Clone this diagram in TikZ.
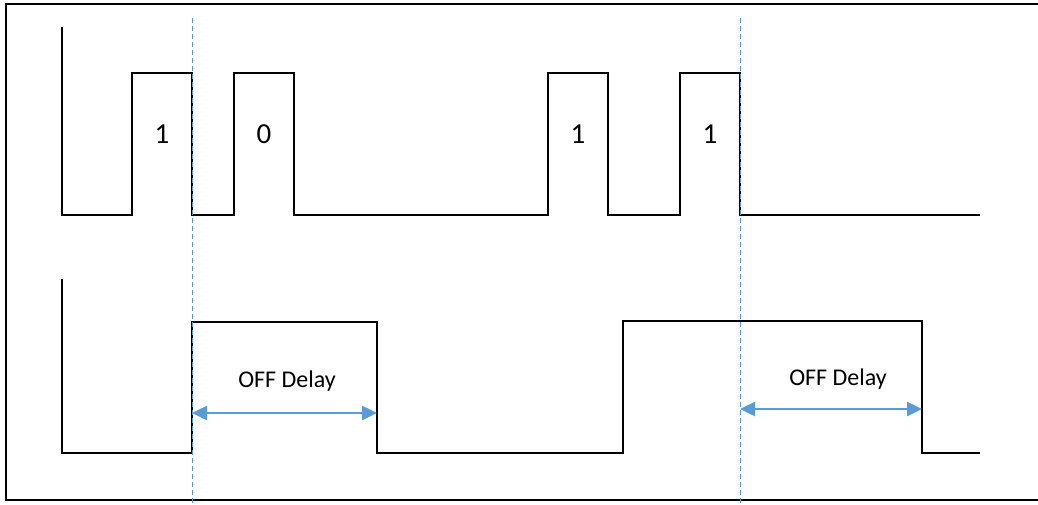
\documentclass[tikz,border=0pt]{standalone}
\usepackage{fontspec}
\setmainfont{Carlito}
\usetikzlibrary{arrows.meta,positioning}
\definecolor{delayblue}{RGB}{91,155,213}
\tikzset{
  wave/.style={line width=2.5pt, line join=miter},
  marker/.style={delayblue, line width=1pt, dash pattern=on 5pt off 3pt},
  delayarrow/.style={delayblue, line width=2.5pt,
    {Triangle[length=15pt,width=14pt]}-{Triangle[length=15pt,width=14pt]}},
  bit/.style={font=\fontsize{29}{34}\selectfont},
  delaylabel/.style={font=\fontsize{24}{28}\selectfont, anchor=base}
}

\begin{document}
\begin{tikzpicture}[x=1pt,y=-1pt]
\useasboundingbox (0,0) rectangle (1038,504);
\draw[line width=2.5pt] (6,4) rectangle (1050,500);

% input pulses
\draw[wave] (62,27) -- (62,215) -- (132,215) -- (132,73) -- (192,73) -- (192,215)
  -- (234,215) -- (234,73) -- (294,73) -- (294,215)
  -- (548,215) -- (548,73) -- (608,73) -- (608,215)
  -- (680,215) -- (680,73) -- (740,73) -- (740,215) -- (980,215);
\node[bit] (bit1) at (162,134) {1};
\node[bit] (bit2) at (264,134) {0};
\node[bit] (bit3) at (578,134) {1};
\node[bit] (bit4) at (710,134) {1};

% output with off delay
\draw[wave] (62,279) -- (62,453) -- (192,453) -- (192,322) -- (377,322) -- (377,453)
  -- (623,453) -- (623,321) -- (922,321) -- (922,453) -- (980,453);

% markers
\coordinate (mark1top) at (192,18);
\coordinate (mark1bot) at (192,504);
\coordinate (mark2top) at (740,18);
\coordinate (mark2bot) at (740,504);
\draw[marker] (mark1top) -- (mark1bot);
\draw[marker] (mark2top) -- (mark2bot);

% delays
\coordinate (delay1a) at (192,413);
\coordinate (delay1b) at (377,413);
\coordinate (delay2a) at (740,409);
\coordinate (delay2b) at (922,409);
\draw[delayarrow] (delay1a) -- (delay1b);
\draw[delayarrow] (delay2a) -- (delay2b);
\node[delaylabel] (delay1) at (287,387) {OFF Delay};
\node[delaylabel] (delay2) at (838,385) {OFF Delay};
\end{tikzpicture}
\end{document}
